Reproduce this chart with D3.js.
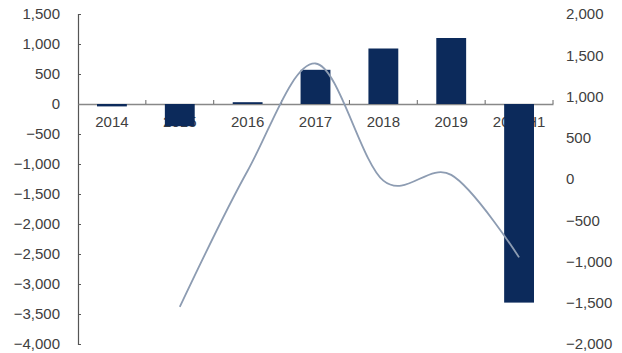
<!DOCTYPE html>
<html>
<head>
<meta charset="utf-8">
<script src="https://cdn.jsdelivr.net/npm/d3@7"></script>
<style>
  body { margin: 0; background: #fff; }
  text { font-family: "Liberation Sans", Arial, sans-serif; }
</style>
</head>
<body>
<div id="chart"></div>
<script>
const categories = ["2014", "2015", "2016", "2017", "2018", "2019", "2020H1"];
const barValues = [-40, -370, 30, 570, 925, 1100, -3310];
const lineValues = [null, -1550, 100, 1400, -20, 50, -950];
const leftTicks = [1500, 1000, 500, 0, -500, -1000, -1500, -2000, -2500, -3000, -3500, -4000];
const rightTicks = [2000, 1500, 1000, 500, 0, -500, -1000, -1500, -2000];

const width = 622;
const height = 353;
const margin = { top: 14, right: 69, bottom: 9, left: 78 };

const svg = d3.select("#chart")
    .append("svg")
    .attr("width", width)
    .attr("height", height);

const x = d3.scaleBand()
    .domain(categories)
    .range([margin.left, width - margin.right])
    .paddingInner(0.56)
    .paddingOuter(0.28);

const yLeft = d3.scaleLinear()
    .domain([-4000, 1500])
    .range([height - margin.bottom, margin.top]);

const yRight = d3.scaleLinear()
    .domain([-2000, 2000])
    .range([height - margin.bottom, margin.top]);

const fmt = d3.format(",");

// left axis
const leftAxis = svg.append("g")
    .attr("transform", `translate(${margin.left},0)`)
    .call(d3.axisLeft(yLeft).tickValues(leftTicks).tickSize(-3).tickPadding(18).tickFormat(fmt));
leftAxis.select(".domain").attr("stroke", "#555").attr("stroke-width", 1.2);
leftAxis.selectAll(".tick line").attr("stroke", "#555");
leftAxis.selectAll("text").attr("font-size", 15).attr("fill", "#404040");

// right axis (labels only)
const rightAxis = svg.append("g")
    .attr("transform", `translate(${width - margin.right},0)`)
    .call(d3.axisRight(yRight).tickValues(rightTicks).tickSize(0).tickPadding(13).tickFormat(fmt));
rightAxis.select(".domain").remove();
rightAxis.selectAll("text").attr("font-size", 15).attr("fill", "#404040");

// x axis at zero
const y0 = yLeft(0);
const xAxis = svg.append("g")
    .attr("transform", `translate(0,${y0})`)
    .call(d3.axisBottom(x).tickSize(0).tickPadding(12));
xAxis.select(".domain").attr("stroke", "#888").attr("stroke-width", 1.5);
xAxis.selectAll("text").attr("font-size", 15).attr("fill", "#404040");

// boundary ticks
const step = x.step();
const bounds = d3.range(categories.length + 1).map(i => margin.left + i * step);
svg.append("g").selectAll("line")
    .data(bounds.slice(1))
    .join("line")
    .attr("x1", d => d).attr("x2", d => d)
    .attr("y1", y0 - 4).attr("y2", y0)
    .attr("stroke", "#666");

// bars
svg.append("g").selectAll("rect")
    .data(categories.map((c, i) => ({ c, v: barValues[i] })))
    .join("rect")
    .attr("x", d => x(d.c))
    .attr("width", x.bandwidth())
    .attr("y", d => yLeft(Math.max(0, d.v)))
    .attr("height", d => Math.abs(yLeft(d.v) - y0))
    .attr("fill", "#0c2a5b");

// line (right axis)
const lineData = categories.map((c, i) => ({ c, v: lineValues[i] })).filter(d => d.v !== null);
const line = d3.line()
    .x(d => x(d.c) + x.bandwidth() / 2)
    .y(d => yRight(d.v))
    .curve(d3.curveCardinal.tension(0));

svg.append("path")
    .datum(lineData)
    .attr("d", line)
    .attr("fill", "none")
    .attr("stroke", "#8d9cb2")
    .attr("stroke-width", 1.8);
</script>
</body>
</html>
